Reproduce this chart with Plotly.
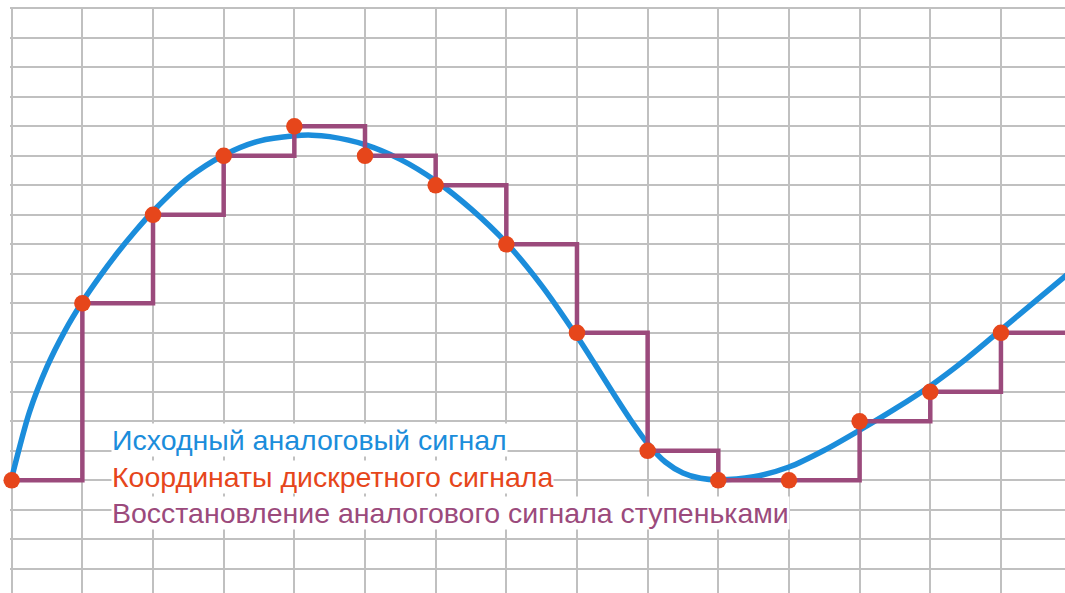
import plotly.graph_objects as go

# Sample instants (grid cells) and discrete signal values (grid cells)
sample_t = [0, 1, 2, 3, 4, 5, 6, 7, 8, 9, 10, 11, 12, 13, 14, 15]
sample_v = [0, 6, 9, 11, 12, 11, 10, 8, 5, 1, 0, 0, 2, 3, 5, 7]

# Original analog signal
analog_t = [0, 0.25, 0.5, 0.75, 1.0, 1.25, 1.5, 1.75, 2.0, 2.5, 3.0, 3.5, 4.0,
            4.25, 4.5, 5.0, 5.5, 6.0, 6.5, 7.0, 7.5, 8.0, 8.25, 8.5, 8.75, 9.0,
            9.25, 9.5, 9.75, 10.0, 10.5, 11.0, 11.5, 12.0, 12.5, 13.0, 13.5,
            14.0, 14.5, 15.0]
analog_v = [0.08, 2.3, 3.85, 5.05, 6.05, 6.92, 7.72, 8.45, 9.12, 10.25, 11.02,
            11.5, 11.68, 11.7, 11.65, 11.38, 10.88, 10.15, 9.2, 8.05, 6.6, 4.88,
            3.95, 3.0, 2.08, 1.25, 0.62, 0.25, 0.07, 0.02, 0.12, 0.45, 1.02,
            1.7, 2.42, 3.2, 4.1, 5.1, 6.1, 7.1]

labels = ["Исходный аналоговый сигнал",
          "Координаты дискретного сигнала",
          "Восстановление аналогового сигнала ступеньками"]
label_colors = ["#1b8ddb", "#e6461b", "#9b4a7c"]

BLUE = "#1b8ddb"
ORANGE = "#e6461b"
PURPLE = "#9b4a7c"
GRID = "#c0c0c0"

fig = go.Figure()

fig.add_trace(go.Scatter(
    x=analog_t, y=analog_v, mode="lines",
    line=dict(color=BLUE, width=5.5, shape="spline", smoothing=0.8),
    cliponaxis=False, hoverinfo="skip", showlegend=False))

fig.add_trace(go.Scatter(
    x=sample_t, y=sample_v, mode="lines",
    line=dict(color=PURPLE, width=4.5, shape="hv"),
    hoverinfo="skip", showlegend=False))

fig.add_trace(go.Scatter(
    x=sample_t, y=sample_v, mode="markers",
    marker=dict(color=ORANGE, size=16.5, line=dict(width=0)),
    cliponaxis=False, showlegend=False))

label_t = 1.40
label_v = [1.36, 0.11, -1.12]
for txt, col, yv in zip(labels, label_colors, label_v):
    fig.add_annotation(
        x=label_t, y=yv, xref="x", yref="y", text=txt, showarrow=False,
        xanchor="left", yanchor="middle",
        font=dict(family="Liberation Sans, Arial, sans-serif", size=28.5, color=col),
        bgcolor="white", borderpad=0)

W, H = 1065, 593
ml, mt = 10, 7
px_x = 70.66
px_y = 29.5
x0_pix, y0_pix = 11.7, 480.3
x_range = [(ml - x0_pix) / px_x, (W - x0_pix) / px_x]
y_range = [(y0_pix - H) / px_y, (y0_pix - mt) / px_y]

fig.update_layout(
    width=W, height=H,
    margin=dict(l=ml, r=0, t=mt, b=0, pad=0),
    paper_bgcolor="white", plot_bgcolor="white",
    xaxis=dict(range=x_range, dtick=1, tick0=0, showgrid=True, gridcolor=GRID,
               gridwidth=2, zeroline=False, showticklabels=False, ticks="",
               showline=False, fixedrange=True),
    yaxis=dict(range=y_range, dtick=1, tick0=0, showgrid=True, gridcolor=GRID,
               gridwidth=2, zeroline=False, showticklabels=False, ticks="",
               showline=False, fixedrange=True),
)

fig.write_html("out.html", config={"displayModeBar": False},
               post_script="document.body.style.margin='0px';"
                           "document.body.style.overflow='hidden';")
